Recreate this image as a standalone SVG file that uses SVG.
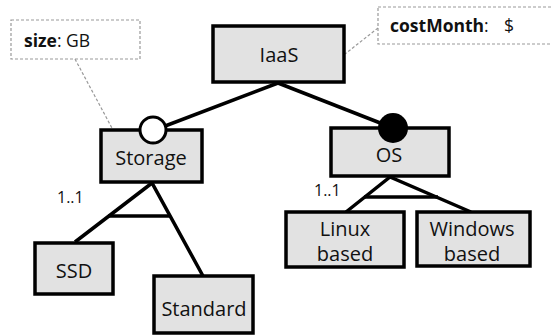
<svg xmlns="http://www.w3.org/2000/svg" width="552" height="336" viewBox="0 0 552 336">
<style>
.node{fill:#e2e2e2;stroke:#000;stroke-width:3.5}
.t{font-family:"Open Sans","Liberation Sans",sans-serif;font-size:20px;fill:#111;text-anchor:middle}
.lbl{font-family:"Open Sans","Liberation Sans",sans-serif;font-size:17.5px;fill:#111}
.note{fill:#fff;stroke:#999;stroke-width:1.2;stroke-dasharray:3 2}
.dash{fill:none;stroke:#999;stroke-width:1.2;stroke-dasharray:3 2}
.edge{fill:none;stroke:#000;stroke-width:3.5}
.card{font-family:"Open Sans","Liberation Sans",sans-serif;font-size:16px;fill:#111}
</style>
<rect width="552" height="336" fill="#fff"/>
<g id="connectors">
<line class="dash" x1="75" y1="59" x2="113" y2="130"/>
<line class="dash" x1="378" y1="28" x2="345" y2="54"/>
<line class="edge" x1="278" y1="83" x2="152" y2="131"/>
<line class="edge" x1="278" y1="83" x2="393" y2="128"/>
<polyline class="edge" points="75,242 152,183 203,276"/>
<line class="edge" x1="108" y1="216" x2="170" y2="216"/>
<polyline class="edge" points="346,212 390,177 471,212"/>
<line class="edge" x1="364" y1="197" x2="438" y2="197"/>
</g>
<g id="note-size">
<rect class="note" x="11" y="20" width="129" height="39"/>
<text class="lbl" x="24" y="47"><tspan font-weight="bold">size</tspan>: GB</text>
</g>
<g id="note-cost">
<rect class="note" x="378" y="7" width="180" height="37"/>
<text class="lbl" x="390" y="32"><tspan font-weight="bold">costMonth</tspan>:<tspan x="504">$</tspan></text>
</g>
<g id="IaaS">
<rect class="node" x="213" y="26" width="131" height="56"/>
<text class="t" x="279" y="62">IaaS</text>
</g>
<g id="Storage">
<rect class="node" x="101" y="130" width="101" height="52"/>
<text class="t" x="151" y="165">Storage</text>
<circle cx="153" cy="130" r="13" fill="#fff" stroke="#000" stroke-width="3"/>
</g>
<g id="OS">
<rect class="node" x="331" y="128" width="118" height="48"/>
<text class="t" x="389" y="162">OS</text>
<circle cx="393" cy="128" r="15" fill="#000"/>
</g>
<g id="SSD">
<rect class="node" x="35" y="243" width="78" height="51"/>
<text class="t" x="74" y="278">SSD</text>
</g>
<g id="Standard">
<rect class="node" x="154" y="276" width="99" height="57"/>
<text class="t" x="204" y="316">Standard</text>
</g>
<g id="Linux">
<rect class="node" x="286" y="212" width="118" height="55"/>
<text class="t" x="345" y="236">Linux</text>
<text class="t" x="345" y="261">based</text>
</g>
<g id="Windows">
<rect class="node" x="417" y="212" width="113" height="54"/>
<text class="t" x="472" y="236">Windows</text>
<text class="t" x="472" y="261">based</text>
</g>
<g id="cardinalities">
<text class="card" x="57" y="203">1..1</text>
<text class="card" x="314" y="196">1..1</text>
</g>
</svg>
